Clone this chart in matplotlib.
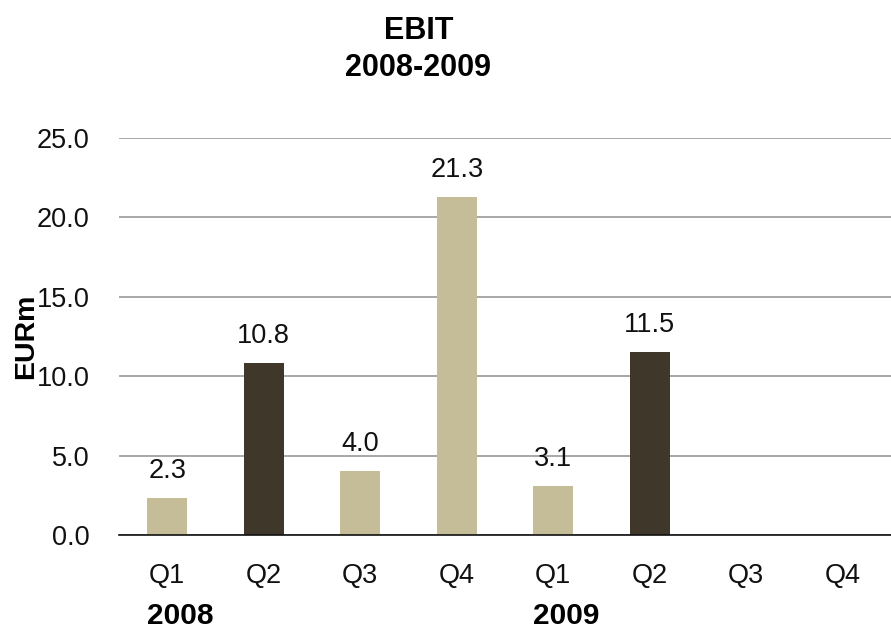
import matplotlib
matplotlib.use("Agg")
import matplotlib.pyplot as plt

plt.rcParams['font.family'] = ['Liberation Sans', 'DejaVu Sans']

quarters = ["Q1", "Q2", "Q3", "Q4", "Q1", "Q2", "Q3", "Q4"]
years = ["2008", "2009"]
ebit = [2.3, 10.8, 4.0, 21.3, 3.1, 11.5, None, None]
bar_colors = ["#C4BD97", "#40372B", "#C4BD97", "#C4BD97",
              "#C4BD97", "#40372B", "#C4BD97", "#C4BD97"]
yticks = [0, 5, 10, 15, 20, 25]

W, H = 891, 631
fig = plt.figure(figsize=(W / 100, H / 100), dpi=100)
ax = fig.add_axes([119 / W, 1 - 535 / H, 772 / W, 397 / H])

x = list(range(len(quarters)))
for i, v in enumerate(ebit):
    if v is None:
        continue
    ax.bar(i, v, width=0.415, color=bar_colors[i], zorder=3)
    ax.annotate(f"{v:.1f}", (i, v), xytext=(0, 14.4), textcoords="offset points",
                ha="center", va="baseline", fontsize=19.5, color="#111111")

ax.set_xlim(-0.5, len(quarters) - 0.5)
ax.set_ylim(0, 25)
ax.set_yticks(yticks)
ax.set_yticklabels([f"{t:.1f}" for t in yticks], fontsize=19.5, color="#111111")
ax.set_xticks(x)
ax.set_xticklabels(quarters, fontsize=19.5, color="#111111")
ax.tick_params(axis="both", length=0)
ax.tick_params(axis="x", pad=20)
ax.tick_params(axis="y", pad=21)
ax.yaxis.grid(True, color="#999999", linewidth=1.2, zorder=0)
for s in ["top", "right", "left"]:
    ax.spines[s].set_visible(False)
ax.spines["bottom"].set_color("#111111")
ax.spines["bottom"].set_linewidth(1.2)
ax.spines["bottom"].set_zorder(4)

ax.set_ylabel("EURm", fontsize=20.5, fontweight="bold")
ax.yaxis.set_label_coords(-0.104, 0.5)

# year labels under the first quarter of each year
for k, yr in enumerate(years):
    ax.text(4 * k - 0.21, (535 - 624) / 397, yr, transform=ax.get_xaxis_transform(),
            ha="left", va="baseline", fontsize=21.5, fontweight="bold")

fig.text(419 / W, 1 - 39 / H, "EBIT", ha="center", va="baseline",
         fontsize=22, fontweight="bold")
fig.text(418 / W, 1 - 76 / H, "2008-2009", ha="center", va="baseline",
         fontsize=22, fontweight="bold")

fig.savefig("out.png", dpi=100)
